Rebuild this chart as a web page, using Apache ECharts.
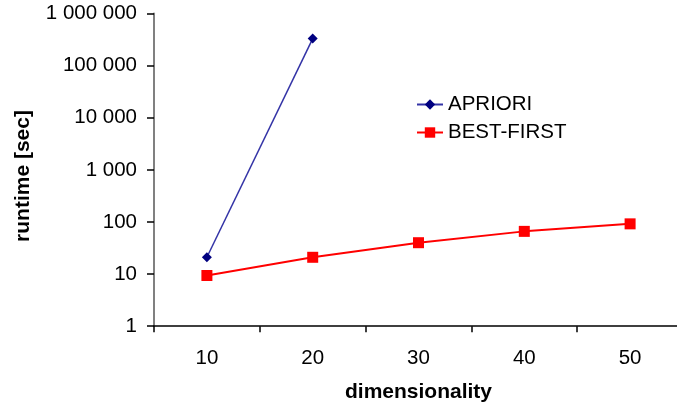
<!DOCTYPE html>
<html>
<head>
<meta charset="utf-8">
<script src="https://cdn.jsdelivr.net/npm/echarts@6/dist/echarts.min.js"></script>
<style>
  html, body { margin: 0; padding: 0; background: #fff; overflow: hidden; }
  /* the plot area runs slightly past the right edge of the window */
  #chart { width: 700px; height: 405px; }
</style>
</head>
<body>
<div id="chart"></div>
<script>
// Runtime of the two search strategies versus the number of dimensions
var dimensions = ['10', '20', '30', '40', '50'];
var aprioriRuntime = [21, 330000, null, null, null];
var bestFirstRuntime = [9.4, 21, 40, 66, 92];
var runtimeTicks = [1, 10, 100, 1000, 10000, 100000, 1000000];

var FONT = 'Liberation Sans, Arial, Helvetica, sans-serif';

function spacedThousands(v) {
  return String(Math.round(v)).replace(/\B(?=(\d{3})+(?!\d))/g, ' ');
}

var chart = echarts.init(document.getElementById('chart'), null, { renderer: 'canvas' });

chart.setOption({
  backgroundColor: '#ffffff',
  animation: false,
  grid: {
    left: 154, top: 13.5, width: 529, height: 312.7,
    containLabel: false, outerBoundsMode: 'none'
  },
  legend: {
    orient: 'vertical',
    left: 416,
    top: 94,
    padding: 0,
    itemWidth: 26,
    itemHeight: 13,
    itemGap: 7,
    textStyle: { fontFamily: FONT, fontSize: 20.5, color: '#000' },
    data: ['APRIORI', 'BEST-FIRST']
  },
  xAxis: {
    type: 'category',
    data: dimensions,
    boundaryGap: true,
    name: 'dimensionality',
    nameLocation: 'middle',
    nameGap: 56,
    nameTextStyle: { fontFamily: FONT, fontSize: 21, fontWeight: 'bold', color: '#000' },
    axisLine: { show: true, lineStyle: { color: '#000', width: 1.5 } },
    axisTick: { show: true, inside: false, length: 6, lineStyle: { color: '#000', width: 1.5 } },
    axisLabel: { fontFamily: FONT, fontSize: 20.5, color: '#000', margin: 22 },
    splitLine: { show: false }
  },
  yAxis: {
    type: 'log',
    logBase: 10,
    min: runtimeTicks[0],
    max: runtimeTicks[runtimeTicks.length - 1],
    axisLine: { show: true, onZero: false, lineStyle: { color: '#808080', width: 2 } },
    axisTick: { show: true, inside: false, length: 7, lineStyle: { color: '#000', width: 1.5 } },
    axisLabel: {
      fontFamily: FONT, fontSize: 20.5, color: '#000', margin: 17,
      formatter: function (v) { return spacedThousands(v); }
    },
    splitLine: { show: false },
    minorTick: { show: false }
  },
  graphic: [{
    type: 'text',
    x: 23,
    y: 176,
    rotation: Math.PI / 2,
    style: {
      text: 'runtime [sec]',
      font: 'bold 21px ' + FONT,
      fill: '#000',
      align: 'center',
      verticalAlign: 'middle'
    }
  }],
  series: [
    {
      name: 'APRIORI',
      type: 'line',
      data: aprioriRuntime,
      connectNulls: false,
      symbol: 'diamond',
      symbolSize: 10,
      showAllSymbol: true,
      lineStyle: { color: '#3333a6', width: 1.5 },
      itemStyle: { color: '#000080' },
      z: 3
    },
    {
      name: 'BEST-FIRST',
      type: 'line',
      data: bestFirstRuntime,
      symbol: 'rect',
      symbolSize: 11,
      showAllSymbol: true,
      lineStyle: { color: '#ff0000', width: 2 },
      itemStyle: { color: '#ff0000' },
      z: 2
    }
  ]
});
</script>
</body>
</html>
